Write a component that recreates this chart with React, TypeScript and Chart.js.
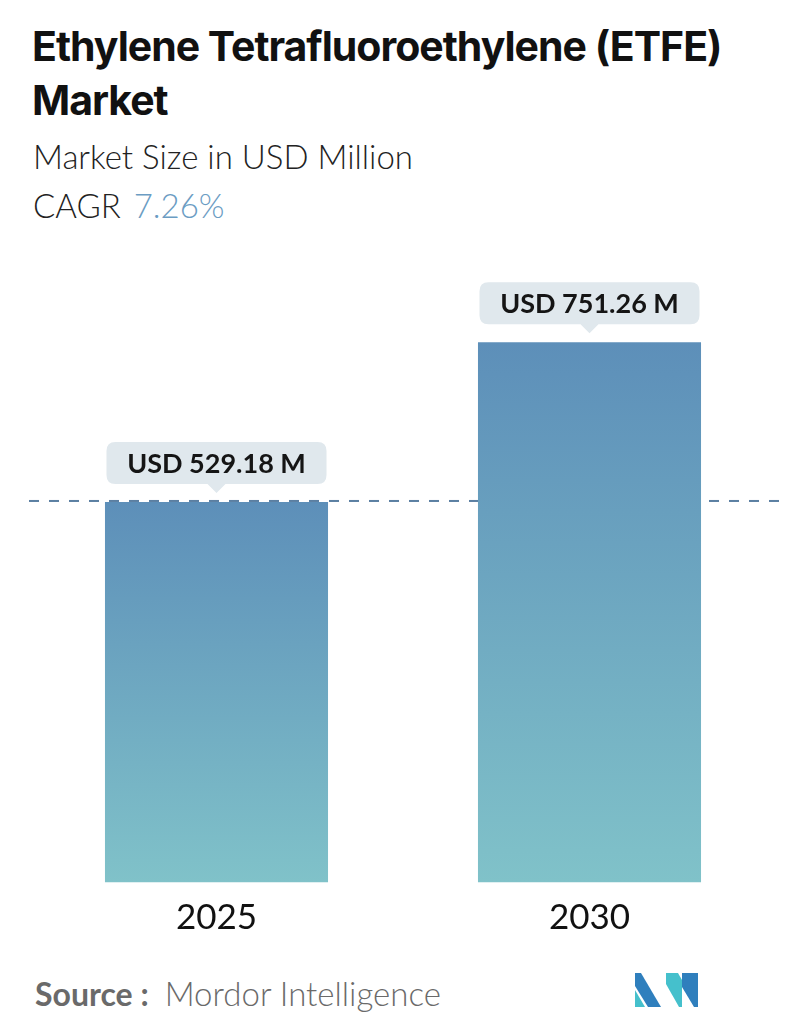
import React, { useEffect, useRef } from "react";
import { Chart, registerables } from "chart.js";

Chart.register(...registerables);

const titleText = "Ethylene Tetrafluoroethylene (ETFE) Market";
const subtitleText = "Market Size in USD Million";
const cagrValue = "7.26%";
const categories = ["2025", "2030"];
const values = [529.18, 751.26];
const valueLabels = ["USD 529.18 M", "USD 751.26 M"];
const yMin = 0;
const yMax = 1000;

const FONT = "Lato, 'Open Sans', sans-serif";
const TITLE_FONT = "Inter, Lato, sans-serif";

const calloutPlugin = {
  id: "callouts",
  beforeDatasetsDraw(chart: any) {
    const { ctx } = chart;
    const y = chart.scales.y.getPixelForValue(values[0]) - 1;
    ctx.save();
    ctx.strokeStyle = "#5b7fa2";
    ctx.lineWidth = 2;
    ctx.setLineDash([10, 10]);
    ctx.beginPath();
    ctx.moveTo(29, y);
    ctx.lineTo(784, y);
    ctx.stroke();
    ctx.restore();
  },
  afterDatasetsDraw(chart: any) {
    const { ctx } = chart;
    const meta = chart.getDatasetMeta(0);
    meta.data.forEach((bar: any, i: number) => {
      const w = bar.width - 3;
      const h = 42;
      const x0 = bar.x - w / 2;
      const bottom = bar.y - 18;
      const top = bottom - h;
      const r = 9;
      ctx.save();
      ctx.fillStyle = "#e0e8ed";
      ctx.beginPath();
      ctx.moveTo(x0 + r, top);
      ctx.lineTo(x0 + w - r, top);
      ctx.quadraticCurveTo(x0 + w, top, x0 + w, top + r);
      ctx.lineTo(x0 + w, bottom - r);
      ctx.quadraticCurveTo(x0 + w, bottom, x0 + w - r, bottom);
      ctx.lineTo(bar.x + 9, bottom);
      ctx.lineTo(bar.x, bottom + 9);
      ctx.lineTo(bar.x - 9, bottom);
      ctx.lineTo(x0 + r, bottom);
      ctx.quadraticCurveTo(x0, bottom, x0, bottom - r);
      ctx.lineTo(x0, top + r);
      ctx.quadraticCurveTo(x0, top, x0 + r, top);
      ctx.closePath();
      ctx.fill();
      ctx.fillStyle = "#151515";
      ctx.font = `700 27px ${FONT}`;
      ctx.textAlign = "center";
      ctx.textBaseline = "middle";
      ctx.fillText(valueLabels[i], bar.x, top + h / 2 + 1);
      ctx.restore();
    });
  },
};

function ChartCanvas() {
  const ref = useRef<HTMLCanvasElement>(null);
  useEffect(() => {
    if (!ref.current) return;
    const chart = new Chart(ref.current, {
      type: "bar",
      data: {
        labels: categories,
        datasets: [
          {
            data: values,
            borderWidth: 0,
            backgroundColor: (c: any) => {
              const ch = c.chart;
              const ys = ch.scales && ch.scales.y;
              if (!ys || c.dataIndex === undefined) return "#6a9fc0";
              const top = ys.getPixelForValue(values[c.dataIndex]);
              const base = ys.getPixelForValue(0);
              if (!isFinite(top) || !isFinite(base) || top === base) return "#6a9fc0";
              const g = ch.ctx.createLinearGradient(0, top, 0, base);
              g.addColorStop(0, "#5d8fb9");
              g.addColorStop(1, "#80c2c9");
              return g;
            },
            categoryPercentage: 1,
            barPercentage: 0.598,
          },
        ],
      },
      options: {
        responsive: false,
        maintainAspectRatio: false,
        animation: false,
        layout: { padding: { left: 30, right: 20, top: 163.5, bottom: 7.6 } },
        plugins: { legend: { display: false }, tooltip: { enabled: false }, title: { display: false } },
        scales: {
          x: {
            grid: { display: false, drawTicks: false },
            border: { display: false },
            ticks: { color: "#111", font: { family: FONT, size: 35, weight: "400" }, padding: 14 },
          },
          y: { display: false, min: yMin, max: yMax },
        },
      },
      plugins: [calloutPlugin],
    });
    return () => chart.destroy();
  }, []);
  return (
    <canvas
      ref={ref}
      width={796}
      height={960}
      style={{ position: "absolute", left: 0, top: 0, width: 796, height: 960 }}
    />
  );
}

function Logo() {
  return (
    <svg width={70} height={40} viewBox="0 0 70 40" style={{ position: "absolute", left: 632, top: 970 }}>
      <polygon points="3,3 3,16 16,37 29,37 9,3" fill="#2f7fbd" />
      <polygon points="3,20 3,37 13,37" fill="#45c0cc" />
      <polygon points="34,3 46,3 50,10 50,37 47,37 34,14" fill="#45c0cc" />
      <polygon points="50,3 66,3 66,37 62,37 50,17" fill="#2f7fbd" />
    </svg>
  );
}

export default function App() {
  useEffect(() => {
    document.body.style.margin = "0";
    document.body.style.background = "#fff";
  }, []);
  return (
    <div style={{ position: "relative", width: 796, height: 1034, background: "#fff", overflow: "hidden", fontFamily: FONT }}>
      <div
        style={{
          position: "absolute",
          left: 32,
          top: 19,
          width: 760,
          fontSize: 41,
          lineHeight: "54px",
          fontWeight: 700,
          color: "#111",
          letterSpacing: -1,
          fontFamily: TITLE_FONT,
        }}
      >
        {titleText}
      </div>
      <div style={{ position: "absolute", left: 33, top: 136, fontSize: 33, fontWeight: 300, color: "#222", whiteSpace: "nowrap" }}>
        {subtitleText}
      </div>
      <div style={{ position: "absolute", left: 33, top: 185, fontSize: 33, fontWeight: 300, color: "#222", whiteSpace: "nowrap" }}>
        CAGR <span style={{ color: "#6b9cc3", marginLeft: 4 }}>{cagrValue}</span>
      </div>
      <ChartCanvas />
      <div style={{ position: "absolute", left: 35, top: 973, fontSize: 32, color: "#6a6a6a", whiteSpace: "nowrap" }}>
        <span style={{ fontWeight: 700 }}>Source :</span>
        <span style={{ fontWeight: 300, marginLeft: 16, fontSize: 33 }}>Mordor Intelligence</span>
      </div>
      <Logo />
    </div>
  );
}
